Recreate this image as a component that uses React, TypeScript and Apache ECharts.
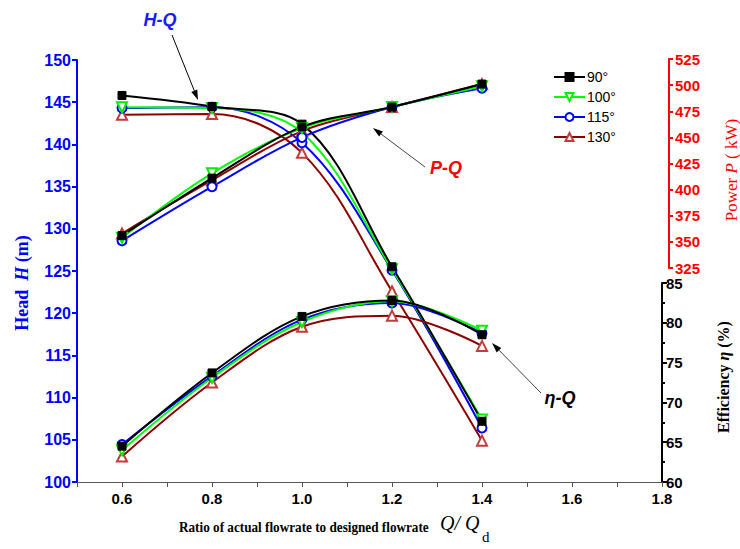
import React, { useEffect, useRef } from 'react';
import * as echarts from 'echarts';

const flowRatio = [0.6, 0.8, 1.0, 1.2, 1.4];
const angleNames = ['90°', '100°', '115°', '130°'];

const head90 = [145.8, 144.5, 142.4, 125.5, 107.2];
const head100 = [144.4, 144.3, 141.4, 125.2, 107.4];
const head115 = [144.3, 144.4, 140.2, 125.1, 106.4];
const head130 = [143.5, 143.6, 139.0, 122.6, 104.9];

const power90 = [356, 411, 460, 479, 501];
const power100 = [354, 415.6, 459, 479, 499];
const power115 = [351, 402.8, 450, 479, 497];
const power130 = [358, 409, 456, 479, 501];

const eff90 = [64.5, 73.7, 80.8, 82.8, 78.5];
const eff100 = [64.0, 73.1, 80.1, 82.7, 79.0];
const eff115 = [64.7, 73.3, 80.4, 82.5, 78.7];
const eff130 = [63.2, 72.5, 79.5, 80.9, 77.1];

const headTicks = { min: 100, max: 150, interval: 5 };
const powerTicks = { min: 325, max: 525, interval: 25 };
const effTicks = { min: 60, max: 85, interval: 5 };
const xTicks = { min: 0.5, max: 1.8, interval: 0.1 };

const looks = [
  { color: '#000000', line: '#000000', symbol: 'rect', size: 8, rotate: 0 },
  { color: '#00ee00', line: '#00ff00', symbol: 'emptyTriangle', size: 10, rotate: 180 },
  { color: '#0000ff', line: '#0000ff', symbol: 'emptyCircle', size: 9, rotate: 0 },
  { color: '#c23b3b', line: '#8b0000', symbol: 'emptyTriangle', size: 10, rotate: 0 },
];

const sans = 'Liberation Sans, Arial, sans-serif';
const serif = 'Liberation Serif, Times New Roman, serif';

function buildSeries() {
  const heads = [head90, head100, head115, head130];
  const powers = [power90, power100, power115, power130];
  const effs = [eff90, eff100, eff115, eff130];
  const out: any[] = [];
  const order = [3, 2, 1, 0];
  const groups = [
    { arrs: heads, axis: 0 },
    { arrs: powers, axis: 1 },
    { arrs: effs, axis: 2 },
  ];
  groups.forEach((g) => {
    order.forEach((i) => {
      const lk = looks[i];
      out.push({
        type: 'line',
        name: angleNames[i],
        xAxisIndex: g.axis,
        yAxisIndex: g.axis,
        data: flowRatio.map((x, k) => [x, g.arrs[i][k]]),
        smooth: 0.35,
        symbol: lk.symbol,
        symbolSize: lk.size,
        symbolRotate: lk.rotate,
        showAllSymbol: true,
        itemStyle: { color: lk.color, borderColor: lk.color, borderWidth: 1 },
        lineStyle: { color: lk.line, width: 2 },
        z: 2,
      });
    });
  });
  return out;
}

function arrow(x1: number, y1: number, x2: number, y2: number, color: string) {
  const dx = x2 - x1;
  const dy = y2 - y1;
  const len = Math.sqrt(dx * dx + dy * dy);
  const ux = dx / len;
  const uy = dy / len;
  const hl = 10;
  const hw = 3.2;
  const bx = x2 - hl * ux;
  const by = y2 - hl * uy;
  return [
    { type: 'line', shape: { x1, y1, x2: bx, y2: by }, style: { stroke: color, lineWidth: 1 } },
    {
      type: 'polygon',
      shape: { points: [[x2, y2], [bx - hw * uy, by + hw * ux], [bx + hw * uy, by - hw * ux]] },
      style: { fill: '#000' },
    },
  ];
}

export default function App() {
  const ref = useRef<HTMLDivElement>(null);
  useEffect(() => {
    const chart = echarts.init(ref.current!, null, { renderer: 'svg' });
    const gridCommon = { left: 77, right: 78 };
    const option: any = {
      animation: false,
      backgroundColor: '#ffffff',
      grid: [
        { ...gridCommon, top: 60, height: 422 },
        { ...gridCommon, top: 59, height: 209 },
        { ...gridCommon, top: 283, height: 199 },
      ],
      legend: {
        data: angleNames,
        orient: 'vertical',
        left: 548,
        top: 65,
        itemWidth: 31,
        itemHeight: 10,
        itemGap: 6,
        textStyle: { fontFamily: sans, fontSize: 14, color: '#000', padding: [0, 0, 0, -3] },
      },
      xAxis: [
        {
          type: 'value',
          gridIndex: 0,
          ...xTicks,
          axisLine: { show: true, lineStyle: { color: '#555', width: 1 } },
          axisTick: { show: true, length: 5, lineStyle: { color: '#555' } },
          splitLine: { show: false },
          axisLabel: {
            margin: 9,
            fontFamily: sans,
            fontWeight: 'bold',
            fontSize: 15,
            color: '#000',
            formatter: (v: number) => {
              const k = Math.round(v * 10);
              return k % 2 === 0 ? (k / 10).toFixed(1) : '';
            },
          },
        },
        { type: 'value', gridIndex: 1, ...xTicks, show: false },
        { type: 'value', gridIndex: 2, ...xTicks, show: false },
      ],
      yAxis: [
        {
          type: 'value',
          gridIndex: 0,
          position: 'left',
          ...headTicks,
          axisLine: { show: true, lineStyle: { color: '#0000ff', width: 2 } },
          axisTick: { show: true, length: 5, lineStyle: { color: '#0000ff', width: 2 } },
          splitLine: { show: false },
          axisLabel: { margin: 6, fontFamily: sans, fontWeight: 'bold', fontSize: 16, color: '#0000ff' },
        },
        {
          type: 'value',
          gridIndex: 1,
          position: 'right',
          offset: 7,
          ...powerTicks,
          axisLine: { show: true, lineStyle: { color: '#ff0000', width: 2 } },
          axisTick: { show: true, length: 4, lineStyle: { color: '#ff0000', width: 2 } },
          splitLine: { show: false },
          axisLabel: { margin: 6, fontFamily: sans, fontWeight: 'bold', fontSize: 15, color: '#ff0000' },
        },
        {
          type: 'value',
          gridIndex: 2,
          position: 'right',
          offset: 0,
          ...effTicks,
          axisLine: { show: true, lineStyle: { color: '#000', width: 2 } },
          axisTick: { show: true, length: 5, lineStyle: { color: '#000', width: 2 } },
          minorTick: { show: true, splitNumber: 2, length: 3, lineStyle: { color: '#000', width: 2 } },
          splitLine: { show: false },
          axisLabel: { margin: 4, fontFamily: sans, fontWeight: 'bold', fontSize: 15, color: '#000' },
        },
      ],
      series: buildSeries(),
      graphic: [
        {
          type: 'text',
          x: 22,
          y: 283,
          rotation: Math.PI / 2,
          style: {
            text: '{a|Head  }{b|H}{a| (m)}',
            align: 'center',
            verticalAlign: 'middle',
            rich: {
              a: { fontFamily: serif, fontWeight: 'bold', fontSize: 18, fill: '#0000ff', color: '#0000ff' },
              b: { fontFamily: serif, fontWeight: 'bold', fontStyle: 'italic', fontSize: 18, fill: '#0000ff', color: '#0000ff' },
            },
          },
        },
        {
          type: 'text',
          x: 731,
          y: 170,
          rotation: Math.PI / 2,
          style: {
            text: '{a|Power }{b|P}{a| ( kW)}',
            align: 'center',
            verticalAlign: 'middle',
            rich: {
              a: { fontFamily: serif, fontSize: 17, fill: '#ff0000', color: '#ff0000' },
              b: { fontFamily: serif, fontStyle: 'italic', fontSize: 17, fill: '#ff0000', color: '#ff0000' },
            },
          },
        },
        {
          type: 'text',
          x: 723,
          y: 377,
          rotation: Math.PI / 2,
          style: {
            text: '{a|Efficiency }{b|η}{a| (%)}',
            align: 'center',
            verticalAlign: 'middle',
            rich: {
              a: { fontFamily: serif, fontWeight: 'bold', fontSize: 16, fill: '#000', color: '#000' },
              b: { fontFamily: serif, fontWeight: 'bold', fontStyle: 'italic', fontSize: 16, fill: '#000', color: '#000' },
            },
          },
        },
        {
          type: 'text',
          x: 179,
          y: 527,
          scaleX: 0.88,
          style: {
            text: 'Ratio of actual flowrate to designed flowrate',
            fontFamily: serif,
            fontWeight: 'bold',
            fontSize: 15,
            fill: '#000',
            align: 'left',
            verticalAlign: 'middle',
          },
        },
        {
          type: 'text',
          x: 440,
          y: 523,
          style: { text: 'Q/ Q', fontFamily: serif, fontStyle: 'italic', fontSize: 20, fill: '#000', align: 'left', verticalAlign: 'middle' },
        },
        {
          type: 'text',
          x: 482,
          y: 537,
          style: { text: 'd', fontFamily: serif, fontSize: 15, fill: '#000', align: 'left', verticalAlign: 'middle' },
        },
        {
          type: 'text',
          x: 160,
          y: 20,
          style: { text: 'H-Q', fontFamily: sans, fontWeight: 'bold', fontStyle: 'italic', fontSize: 18, fill: '#1a1aff', align: 'center', verticalAlign: 'middle' },
        },
        {
          type: 'text',
          x: 446,
          y: 168,
          style: { text: 'P-Q', fontFamily: sans, fontWeight: 'bold', fontStyle: 'italic', fontSize: 18, fill: '#ff0000', align: 'center', verticalAlign: 'middle' },
        },
        {
          type: 'text',
          x: 560,
          y: 398,
          style: { text: 'η-Q', fontFamily: sans, fontWeight: 'bold', fontStyle: 'italic', fontSize: 18, fill: '#000', align: 'center', verticalAlign: 'middle' },
        },
        ...arrow(172, 35, 198, 100, '#000'),
        ...arrow(425, 167, 373, 128, '#444'),
        ...arrow(541, 393, 492, 343, '#444'),
      ],
    };
    chart.setOption(option);
    return () => chart.dispose();
  }, []);
  return <div ref={ref} style={{ position: 'absolute', left: 0, top: 0, width: 740, height: 549 }} />;
}
